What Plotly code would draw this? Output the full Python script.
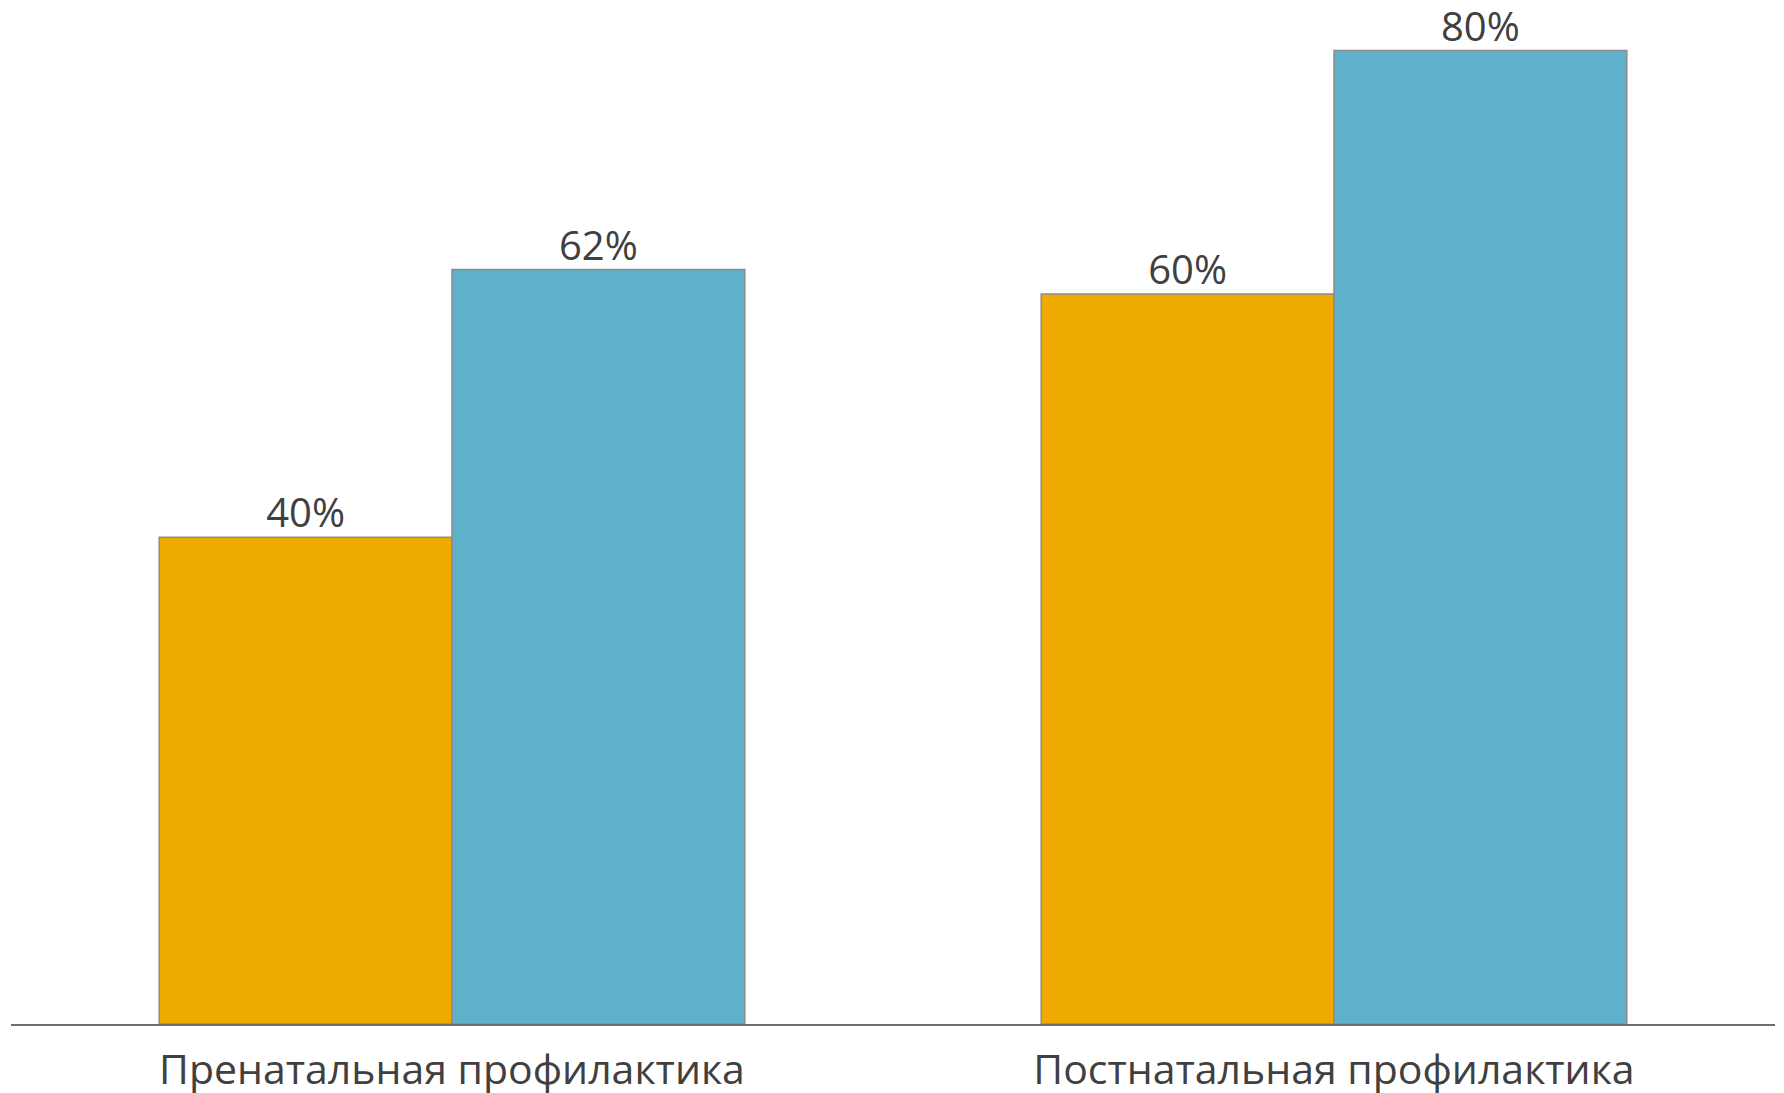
import plotly.graph_objects as go

categories = ["Пренатальная профилактика", "Постнатальная профилактика"]
series_a = [40, 60]
series_b = [62, 80]
labels_a = ["40%", "60%"]
labels_b = ["62%", "80%"]

FONT = "Open Sans, Noto Sans, sans-serif"
TXT = "#404040"

fig = go.Figure()
fig.add_trace(go.Bar(
    x=categories, y=series_a, offsetgroup="a",
    marker=dict(color="#EEAA00", line=dict(color="#8C8C8C", width=1.5)),
))
fig.add_trace(go.Bar(
    x=categories, y=series_b, offsetgroup="b",
    marker=dict(color="#5FB1CB", line=dict(color="#8C8C8C", width=1.5)),
))
for vals, labs, grp in [(series_a, labels_a, "a"), (series_b, labels_b, "b")]:
    fig.add_trace(go.Scatter(
        x=categories, y=vals, text=labs, mode="text", offsetgroup=grp,
        textposition="top center", cliponaxis=False, hoverinfo="skip",
        textfont=dict(size=40, color=TXT, family=FONT),
    ))
fig.update_layout(
    width=1784, height=1093,
    margin=dict(l=3, r=17, t=0, b=77),
    paper_bgcolor="white", plot_bgcolor="white",
    barmode="group", scattermode="group", bargap=0.336, bargroupgap=0,
    showlegend=False,
    font=dict(family=FONT, color=TXT),
)
fig.update_xaxes(
    range=[-0.5, 1.5], showline=True, linecolor="#6E6E6E", linewidth=2,
    ticks="", tickfont=dict(size=41, color=TXT, family=FONT),
    ticklabelstandoff=9, showgrid=False, zeroline=False,
)
fig.update_yaxes(range=[0, 83.5], visible=False, showgrid=False, zeroline=False)
fig.write_html("out.html")
